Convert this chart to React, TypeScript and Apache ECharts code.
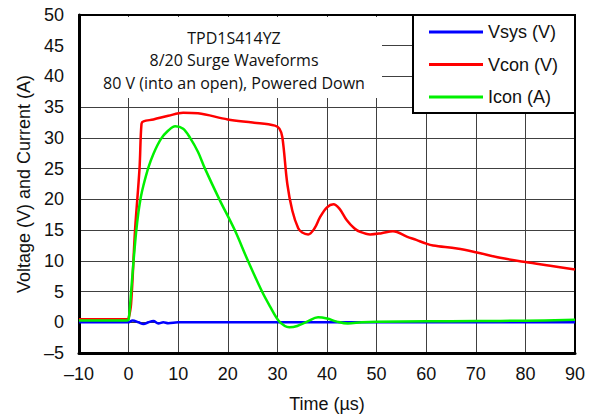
import React, { useEffect, useRef } from "react";
import * as echarts from "echarts";

const seriesNames = ["Vsys (V)", "Vcon (V)", "Icon (A)"];
const titleLines = ["TPD1S414YZ", "8/20 Surge Waveforms", "80 V (into an open), Powered Down"];

const vsysT = [-10, -5, 0, 0.8, 2, 3, 4, 5, 6, 7, 8, 10, 12, 20, 30, 40, 50, 60, 70, 80, 90];
const vsysV = [0, 0, 0, 0.3, 0, -0.3, 0, 0.2, -0.2, 0, -0.15, 0, 0, 0, 0, 0, 0, 0, 0, 0, 0];

const vconT = [-10, -5, -0.2, 0, 0.5, 1.3, 2.2, 2.6, 3, 5, 8, 11, 14, 20, 25, 29.5, 30.4, 31, 32, 33, 34.2, 35, 36.2, 37.5, 38.6, 40, 41.3, 42.5, 44, 45.5, 46.7, 48.7, 51, 53.3, 56.2, 58, 60, 61.4, 66.2, 70, 74.9, 80, 85, 90];
const vconV = [0.5, 0.5, 0.5, 0.6, 3, 15, 25, 32.3, 32.7, 33.0, 33.6, 34.1, 34.0, 33.0, 32.5, 32.0, 31.5, 30.1, 22.5, 18.2, 15.3, 14.6, 14.3, 15.3, 17.1, 18.7, 19.2, 18.5, 16.6, 15.3, 14.7, 14.3, 14.5, 14.8, 13.9, 13.4, 12.8, 12.5, 12.0, 11.4, 10.5, 9.8, 9.2, 8.6];

const iconT = [-10, -0.3, 0, 0.5, 1, 1.5, 2, 2.5, 3, 4, 5, 6.5, 8, 9.4, 11, 12.4, 14, 15.4, 18.3, 21.4, 23.9, 26.9, 28.5, 30.2, 31.5, 32.4, 34, 36, 38.2, 40, 42, 44.2, 47, 50, 60, 70, 80, 90];
const iconV = [0.3, 0.3, 0.4, 4.9, 10, 14.5, 18, 20.5, 22.3, 25.2, 27.4, 29.8, 31.2, 31.9, 31.5, 30, 27.7, 25, 20, 15, 10.3, 5, 2.6, 0.3, -0.6, -0.8, -0.6, 0.1, 0.8, 0.6, 0.1, -0.2, 0, 0.1, 0.15, 0.2, 0.25, 0.4];

const zip = (t: number[], v: number[]) => t.map((x, i) => [x, v[i]]);

const FONT = "'Liberation Sans', Arial, sans-serif";
const TITLE_FONT = "'Open Sans', 'Noto Sans', sans-serif";
const neg = (v: number) => (v < 0 ? "\u2013" + Math.abs(v) : String(v));

export default function App() {
  const ref = useRef<HTMLDivElement>(null);
  useEffect(() => {
    const chart = echarts.init(ref.current!, null, { renderer: "svg" });
    const colors = ["#0000ff", "#ff0000", "#00f000"];
    const datas = [zip(vsysT, vsysV), zip(vconT, vconV), zip(iconT, iconV)];
    const borderAxis = { show: true, onZero: false, lineStyle: { color: "#000", width: 2 } };
    const gridLine = { show: true, lineStyle: { color: "#404040", width: 1 } };
    chart.setOption({
      animation: false,
      grid: { left: 79, right: 22, top: 15, bottom: 66, show: false },
      xAxis: [
        {
          type: "value",
          min: -10,
          max: 90,
          interval: 10,
          axisLine: { show: true, onZero: false, lineStyle: { color: "#000", width: 3 } },
          axisTick: { show: false },
          axisLabel: { fontSize: 18, color: "#111", margin: 12, fontFamily: FONT, formatter: neg },
          splitLine: gridLine,
          name: "Time (µs)",
          nameLocation: "middle",
          nameGap: 42,
          nameTextStyle: { fontSize: 18, color: "#111", fontFamily: FONT },
        },
        {
          type: "value",
          position: "top",
          min: -10,
          max: 90,
          interval: 10,
          axisLine: borderAxis,
          axisTick: { show: false },
          axisLabel: { show: false },
          splitLine: { show: false },
        },
      ],
      yAxis: [
        {
          type: "value",
          min: -5,
          max: 50,
          interval: 5,
          axisLine: { show: true, onZero: false, lineStyle: { color: "#000", width: 3 } },
          axisTick: { show: false },
          axisLabel: { fontSize: 18, color: "#111", margin: 15, fontFamily: FONT, formatter: neg },
          splitLine: gridLine,
          name: "Voltage (V) and Current (A)",
          nameLocation: "middle",
          nameGap: 39,
          nameTextStyle: { fontSize: 18, color: "#111", fontFamily: FONT },
        },
        {
          type: "value",
          position: "right",
          min: -5,
          max: 50,
          interval: 5,
          axisLine: borderAxis,
          axisTick: { show: false },
          axisLabel: { show: false },
          splitLine: { show: false },
        },
      ],
      legend: {
        orient: "vertical",
        left: 429,
        top: 22,
        padding: 0,
        z: 10,
        itemWidth: 54,
        itemHeight: 3,
        itemGap: 12.5,
        icon: "rect",
        textStyle: { fontSize: 18, color: "#111", fontFamily: FONT, lineHeight: 20 },
        data: seriesNames,
      },
      graphic: [
        { type: "rect", z: 5, shape: { x: 81, y: 17, width: 301, height: 81 }, style: { fill: "#fff" } },
        { type: "rect", z: 6, shape: { x: 413, y: 15, width: 162, height: 98 }, style: { fill: "#fff", stroke: "#000", lineWidth: 2 } },
        ...titleLines.map((t, i) => ({
          type: "text",
          z: 7,
          x: 234,
          y: 37.5 + i * 22.5,
          style: { text: t, fill: "#111", font: `16px ${TITLE_FONT}`, textAlign: "center", textVerticalAlign: "middle" },
        })),
      ],
      series: seriesNames.map((n, i) => ({
        name: n,
        type: "line",
        data: datas[i],
        showSymbol: false,
        symbol: "none",
        smooth: 0.35,
        clip: false,
        color: colors[i],
        lineStyle: { color: colors[i], width: 2.5 },
        z: 2 + i,
      })),
    });
    return () => chart.dispose();
  }, []);
  return <div ref={ref} style={{ position: "absolute", left: 0, top: 0, width: 597, height: 419, background: "#fff" }} />;
}
